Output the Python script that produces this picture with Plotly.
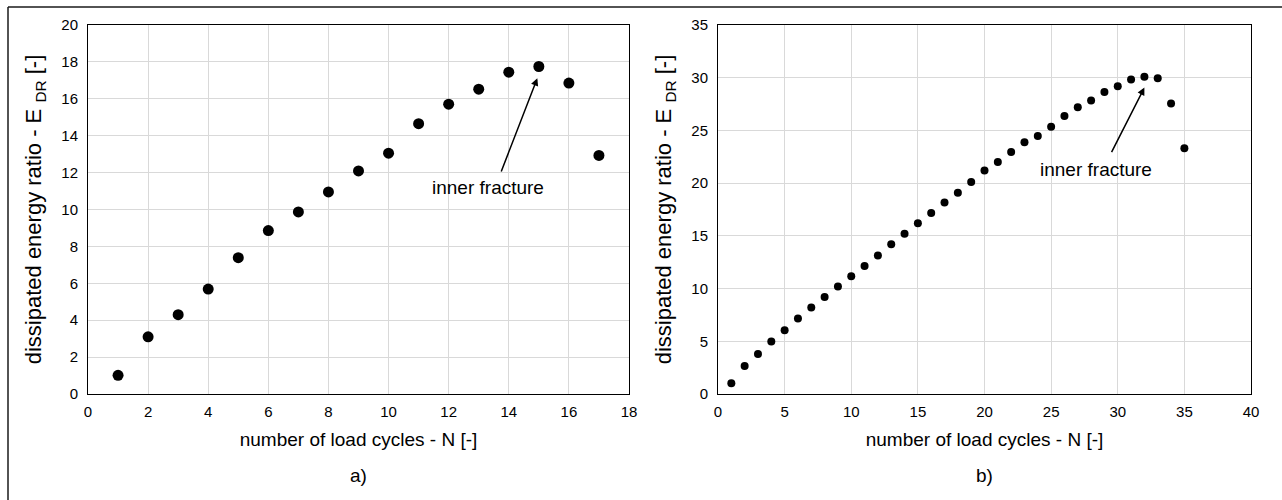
import plotly.graph_objects as go

# Panel a)
cycles_a = list(range(1, 18))
edr_a = [1.01, 3.1, 4.3, 5.69, 7.39, 8.86, 9.87, 10.95, 12.09, 13.05, 14.65, 15.71,
         16.52, 17.44, 17.75, 16.85, 12.93]

# Panel b)
cycles_b = list(range(1, 36))
edr_b = [1.01, 2.66, 3.8, 4.97, 6.04, 7.15, 8.2, 9.2, 10.19, 11.17, 12.15, 13.13,
         14.2, 15.2, 16.2, 17.17, 18.17, 19.08, 20.1, 21.2, 22.0, 22.95, 23.87, 24.47,
         25.35, 26.36, 27.2, 27.83, 28.64, 29.2, 29.84, 30.1, 29.94, 27.56, 23.3]

x_title = "number of load cycles - N [-]"
y_title = "dissipated energy ratio - E <sub>DR</sub> [-]"
ann_text = "inner fracture"
panel_labels = ["a)", "b)"]

FONT = "Liberation Sans, Arial, sans-serif"
W, H = 1282, 500

fig = go.Figure()
fig.add_trace(go.Scatter(x=cycles_a, y=edr_a, mode="markers",
                         marker=dict(color="black", size=11), xaxis="x", yaxis="y",
                         showlegend=False, hoverinfo="skip"))
fig.add_trace(go.Scatter(x=cycles_b, y=edr_b, mode="markers",
                         marker=dict(color="black", size=8), xaxis="x2", yaxis="y2",
                         showlegend=False, hoverinfo="skip"))

common_axis = dict(showline=True, linecolor="black", linewidth=1, mirror=True,
                   showgrid=True, gridcolor="#d9d9d9", gridwidth=1, zeroline=False,
                   ticks="", automargin=False,
                   tickfont=dict(size=15, color="black", family=FONT))
x_extra = dict(ticklabelstandoff=4)
y_extra = dict(ticklabelstandoff=6)

ydom = [1 - 394 / H, 1 - 25 / H]
xtitle_font = dict(size=19, color="black", family=FONT)
ytitle_font = dict(size=22, color="black", family=FONT)
fig.update_layout(
    width=W, height=H,
    margin=dict(l=0, r=0, t=0, b=0, pad=0, autoexpand=False),
    paper_bgcolor="white", plot_bgcolor="white",
    font=dict(family=FONT, color="black"),
    xaxis=dict(domain=[88 / W, 629 / W], range=[0, 18], dtick=2, anchor="y",
               title=dict(text=x_title, font=xtitle_font, standoff=13),
               **common_axis, **x_extra),
    yaxis=dict(domain=ydom, range=[0, 20], dtick=2, anchor="x",
               title=dict(text=y_title, font=ytitle_font, standoff=13),
               **common_axis, **y_extra),
    xaxis2=dict(domain=[718 / W, 1251 / W], range=[0, 40], dtick=5, anchor="y2",
                title=dict(text=x_title, font=xtitle_font, standoff=13),
                **common_axis, **x_extra),
    yaxis2=dict(domain=ydom, range=[0, 35], dtick=5, anchor="x2",
                title=dict(text=y_title, font=ytitle_font, standoff=13),
                **common_axis, **y_extra),
    annotations=[
        dict(x=14.95, y=17.12, xref="x", yref="y", ax=13.73, ay=11.98, axref="x", ayref="y",
             text="", showarrow=True, arrowhead=2, arrowsize=1, arrowwidth=1.5,
             arrowcolor="black"),
        dict(x=13.32, y=11.17, xref="x", yref="y", text=ann_text, showarrow=False,
             font=dict(size=19, color="black")),
        dict(x=32.0, y=29.06, xref="x2", yref="y2", ax=29.48, ay=22.8, axref="x2", ayref="y2",
             text="", showarrow=True, arrowhead=2, arrowsize=1, arrowwidth=1.5,
             arrowcolor="black"),
        dict(x=28.4, y=21.3, xref="x2", yref="y2", text=ann_text, showarrow=False,
             font=dict(size=19, color="black")),
        dict(x=358.5 / W, y=1 - 475 / H, xref="paper", yref="paper", text=panel_labels[0],
             showarrow=False, yanchor="middle", xanchor="center",
             font=dict(size=19, color="black")),
        dict(x=984.5 / W, y=1 - 475 / H, xref="paper", yref="paper", text=panel_labels[1],
             showarrow=False, yanchor="middle", xanchor="center",
             font=dict(size=19, color="black")),
    ],
    shapes=[
        dict(type="line", xref="paper", yref="paper", x0=8 / W, x1=1, y0=1 - 7 / H,
             y1=1 - 7 / H, line=dict(color="#1a1a1a", width=1.5)),
        dict(type="line", xref="paper", yref="paper", x0=8 / W, x1=8 / W, y0=1 - 7 / H,
             y1=0, line=dict(color="#1a1a1a", width=1.5)),
    ],
)

fig.write_html("out.html")
